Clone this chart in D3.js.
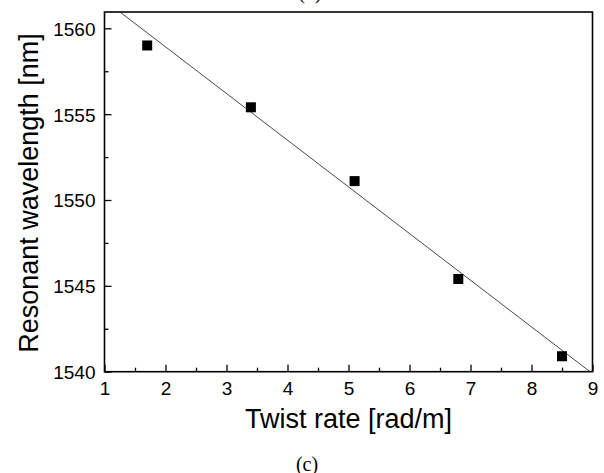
<!DOCTYPE html>
<html>
<head>
<meta charset="utf-8">
<script src="https://cdn.jsdelivr.net/npm/d3@7"></script>
<style>
body {margin:0; background:#fff}
svg {display:block}
.axis path {display:none}
.axis line {stroke:#000; stroke-width:1.3}
</style>
</head>
<body>
<svg id="chart" width="604" height="473"></svg>
<script>

var twistRate = [1.7, 3.4, 5.1, 6.8, 8.5]
var wavelength = [1559.0, 1555.4, 1551.1, 1545.4, 1540.9]

// linear fit, as drawn (ends)
var fitX = [1, 9]
var fitY = [1561.64, 1539.89]

var xTicks = [1, 2, 3, 4, 5, 6, 7, 8, 9]
var xMinor = [1.5, 2.5, 3.5, 4.5, 5.5, 6.5, 7.5, 8.5]
var yTicks = [1540, 1545, 1550, 1555, 1560]
var yMinor = [1542.5, 1547.5, 1552.5, 1557.5]

var plotL = 104.5, plotR = 592.5, plotT = 12, plotB = 371.7
var sans = "'Liberation Sans', Arial, sans-serif"

var svg = d3.select("#chart")

var x = d3.scaleLinear().domain([1, 9]).range([plotL, plotR])
var y = d3.scaleLinear().domain([1540, 1560.95]).range([plotB, plotT])

svg.append("clipPath").attr("id","plotclip").append("rect")
    .attr("x",plotL).attr("y",plotT).attr("width",plotR-plotL).attr("height",plotB-plotT)

// minor ticks
svg.append("g").attr("class","axis").attr("transform","translate(0," + plotB + ")")
    .call(d3.axisBottom(x).tickValues(xMinor).tickSizeInner(-4).tickSizeOuter(0).tickFormat(""))
svg.append("g").attr("class","axis").attr("transform","translate(" + plotL + ",0)")
    .call(d3.axisLeft(y).tickValues(yMinor).tickSizeInner(-4).tickSizeOuter(0).tickFormat(""))

// major ticks
var xa = svg.append("g").attr("class","axis").attr("transform","translate(0," + plotB + ")")
    .call(d3.axisBottom(x).tickValues(xTicks).tickSizeInner(-7).tickSizeOuter(0).tickFormat(d3.format("d")))
xa.selectAll("text").attr("y",23.5).attr("dy",0)
    .style("font-family",sans).style("font-size","19px").attr("fill","#000")

var ya = svg.append("g").attr("class","axis").attr("transform","translate(" + plotL + ",0)")
    .call(d3.axisLeft(y).tickValues(yTicks).tickSizeInner(-7).tickSizeOuter(0).tickFormat(d3.format("d")))
ya.selectAll("text").attr("x",-9).attr("dy","0.36em")
    .style("font-family",sans).style("font-size","19px").attr("fill","#000")

// frame
svg.append("rect")
    .attr("x",plotL).attr("y",plotT).attr("width",plotR-plotL).attr("height",plotB-plotT)
    .attr("fill","none").attr("stroke","#000").attr("stroke-width",1.6)

svg.append("line")
    .attr("clip-path","url(#plotclip)")
    .attr("x1",x(fitX[0])).attr("y1",y(fitY[0]))
    .attr("x2",x(fitX[1])).attr("y2",y(fitY[1]))
    .attr("stroke","#333").attr("stroke-width",0.9)

var s = 10
svg.selectAll("rect.pt").data(twistRate).enter().append("rect")
    .attr("class","pt")
    .attr("x",function(d) {return x(d) - s/2})
    .attr("y",function(d,i) {return y(wavelength[i]) - s/2})
    .attr("width",s).attr("height",s)
    .attr("fill","#000")

svg.append("text")
    .attr("x",(plotL+plotR)/2).attr("y",428)
    .attr("text-anchor","middle")
    .style("font-family",sans).style("font-size","27px")
    .text("Twist rate [rad/m]")

svg.append("text")
    .attr("transform","translate(38," + 193 + ") rotate(-90)")
    .attr("text-anchor","middle")
    .style("font-family",sans).style("font-size","27px")
    .text("Resonant wavelength [nm]")

svg.append("text")
    .attr("x",307).attr("y",471)
    .attr("text-anchor","middle")
    .style("font-family","'Liberation Serif', 'Times New Roman', serif").style("font-size","20px")
    .text("(c)")

// caption of the panel above, cut off at the top edge
svg.append("text")
    .attr("x",310).attr("y",-1)
    .attr("text-anchor","middle")
    .style("font-family","'Liberation Serif', 'Times New Roman', serif").style("font-size","20px")
    .text("(b)")

</script>
</body>
</html>
